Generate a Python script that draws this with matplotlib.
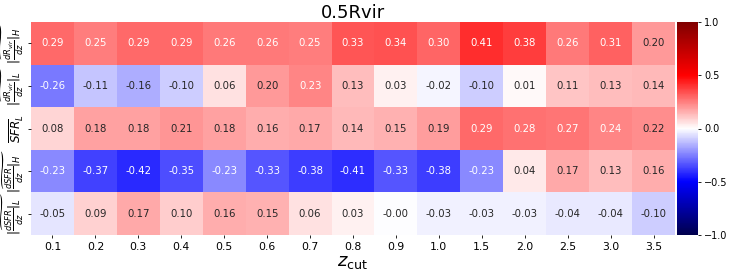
import matplotlib
matplotlib.use("Agg")
import matplotlib.pyplot as plt
import seaborn as sns
import numpy as np

x_labels = ["0.1", "0.2", "0.3", "0.4", "0.5", "0.6", "0.7", "0.8", "0.9", "1.0",
            "1.5", "2.0", "2.5", "3.0", "3.5"]
y_labels = [r"$\widetilde{|\frac{dR_{vir}}{dz}|_H}$",
            r"$\widetilde{|\frac{dR_{vir}}{dz}|_L}$",
            r"$\overline{SFR}_L$",
            r"$\widetilde{|\frac{dSFR}{dz}|_H}$",
            r"$\widetilde{|\frac{dSFR}{dz}|_L}$"]

row_dRvir_H = [0.29, 0.25, 0.29, 0.29, 0.26, 0.26, 0.25, 0.33, 0.34, 0.30, 0.41, 0.38, 0.26, 0.31, 0.20]
row_dRvir_L = [-0.26, -0.11, -0.16, -0.10, 0.06, 0.20, 0.2349, 0.13, 0.03, -0.02, -0.10, 0.01, 0.11, 0.13, 0.14]
row_SFR_L = [0.08, 0.18, 0.18, 0.21, 0.18, 0.16, 0.17, 0.14, 0.15, 0.19, 0.29, 0.28, 0.27, 0.24, 0.22]
row_dSFR_H = [-0.23, -0.37, -0.42, -0.35, -0.23, -0.33, -0.38, -0.41, -0.33, -0.38, -0.23, 0.04, 0.17, 0.13, 0.16]
row_dSFR_L = [-0.05, 0.09, 0.17, 0.10, 0.16, 0.15, 0.06, 0.03, -0.001, -0.03, -0.03, -0.03, -0.04, -0.04, -0.10]

data = np.array([row_dRvir_H, row_dRvir_L, row_SFR_L, row_dSFR_H, row_dSFR_L])

fig = plt.figure(figsize=(7.31, 2.73), dpi=100)
ax = fig.add_axes([31 / 731, 38 / 273, 644 / 731, 213 / 273])
cax = fig.add_axes([677 / 731, 38 / 273, 21 / 731, 213 / 273])

sns.heatmap(data, ax=ax, cbar_ax=cax, cmap="seismic", vmin=-1, vmax=1,
            annot=True, fmt=".2f", annot_kws={"size": 7.3},
            xticklabels=x_labels, yticklabels=y_labels)

ax.set_title("0.5Rvir", fontsize=13, pad=3)
ax.set_xlabel(r"$z_{\rm cut}$", fontsize=13, labelpad=1)
ax.tick_params(axis="x", labelsize=7.8, rotation=0, length=2.5, width=0.6, pad=2.5)
ax.tick_params(axis="y", labelsize=8.6, rotation=90, length=2.5, width=0.6, pad=1)
for lab in ax.get_yticklabels():
    lab.set_va("center")
cax.tick_params(labelsize=7, length=2.5, width=0.6, pad=2)
cax.set_yticks([-1.0, -0.5, 0.0, 0.5, 1.0])

fig.savefig("out.png", dpi=100)
